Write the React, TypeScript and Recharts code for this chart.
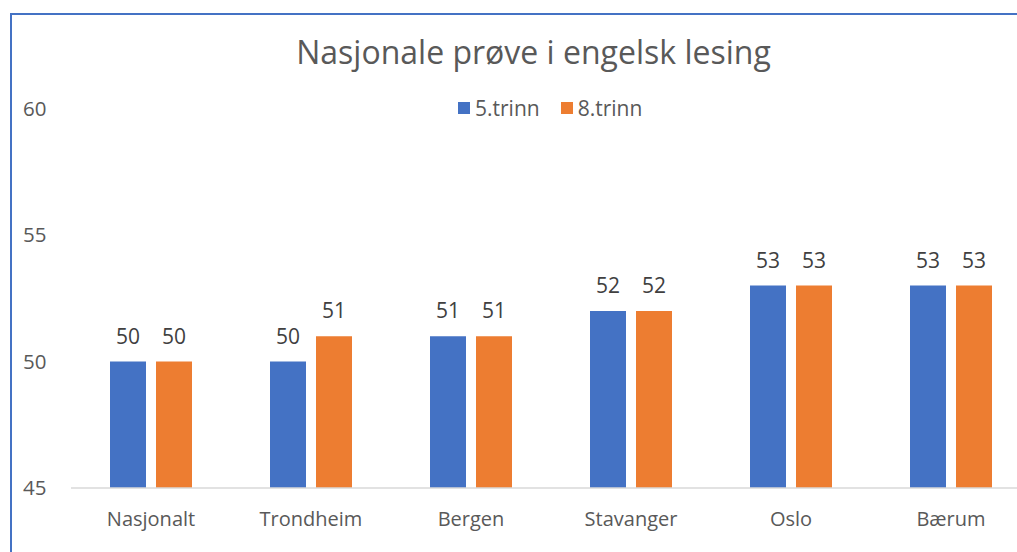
import React from "react";
import { BarChart, Bar, XAxis, YAxis, Legend, LabelList } from "recharts";

const categories = ["Nasjonalt", "Trondheim", "Bergen", "Stavanger", "Oslo", "Bærum"];
const trinn5 = [50, 50, 51, 52, 53, 53];
const trinn8 = [50, 51, 51, 52, 53, 53];
const yTicks = [45, 50, 55, 60];
const seriesNames = ["5.trinn", "8.trinn"];
const colors = ["#4472C4", "#ED7D31"];
const titleText = "Nasjonale prøve i engelsk lesing";

const data = categories.map((c, i) => ({ name: c, t5: trinn5[i], t8: trinn8[i] }));

const FONT = "'Open Sans', sans-serif";

const YTick = (props: any) => {
  const { y, payload } = props;
  return (
    <text x={23} y={y} dy={7} textAnchor="start" fill="#595959" fontSize={20.5} fontFamily={FONT}>
      {payload.value}
    </text>
  );
};

const XTick = (props: any) => {
  const { x, y, payload } = props;
  return (
    <text x={x} y={y} dy={30} textAnchor="middle" fill="#595959" fontSize={20} fontFamily={FONT}>
      {payload.value}
    </text>
  );
};

const LegendContent = (props: any) => {
  const items = props.payload || [];
  return (
    <div style={{ display: "flex", alignItems: "center", fontFamily: FONT, fontSize: 21, color: "#595959" }}>
      {items.map((it: any, i: number) => (
        <div key={i} style={{ display: "flex", alignItems: "center", marginRight: i === 0 ? 21 : 0 }}>
          <div style={{ width: 12, height: 12, background: it.color, marginRight: 5 }} />
          <span style={{ lineHeight: "24px" }}>{it.value}</span>
        </div>
      ))}
    </div>
  );
};

export default function App() {
  return (
    <div style={{ position: "fixed", left: 0, top: 0, width: 1017, height: 552, overflow: "hidden", background: "#fff" }}>
      <svg width={1017} height={552} style={{ position: "absolute", left: 0, top: 0 }}>
        <line x1={11} y1={14} x2={1017} y2={14} stroke="#4472C4" strokeWidth={2} />
        <line x1={11} y1={13} x2={11} y2={552} stroke="#4472C4" strokeWidth={2} />
      </svg>
      <div
        style={{
          position: "absolute",
          left: 0,
          top: 30,
          width: 1067,
          textAlign: "center",
          fontFamily: FONT,
          fontSize: 32,
          color: "#595959",
          lineHeight: "44px",
        }}
      >
        {titleText}
      </div>
      <div style={{ position: "absolute", left: 0, top: 0 }}>
        <BarChart
          width={1060}
          height={560}
          data={data}
          margin={{ top: 108.5, right: 29, left: 0, bottom: 32 }}
          barGap={10}
          barSize={36}
        >
          <XAxis
            dataKey="name"
            height={40}
            axisLine={{ stroke: "#D9D9D9", strokeWidth: 1.5 }}
            tickLine={false}
            tick={<XTick />}
            interval={0}
          />
          <YAxis
            width={71}
            domain={[45, 60]}
            ticks={yTicks}
            allowDataOverflow
            axisLine={false}
            tickLine={false}
            tick={<YTick />}
          />
          <Legend
            verticalAlign="middle"
            align="center"
            content={<LegendContent />}
            wrapperStyle={{ position: "absolute", top: 96, left: 458, width: "auto" }}
          />
          <Bar dataKey="t5" name={seriesNames[0]} fill={colors[0]} isAnimationActive={false}>
            <LabelList dataKey="t5" position="top" offset={18} fill="#404040" fontSize={21} fontFamily={FONT} />
          </Bar>
          <Bar dataKey="t8" name={seriesNames[1]} fill={colors[1]} isAnimationActive={false}>
            <LabelList dataKey="t8" position="top" offset={18} fill="#404040" fontSize={21} fontFamily={FONT} />
          </Bar>
        </BarChart>
      </div>
    </div>
  );
}
